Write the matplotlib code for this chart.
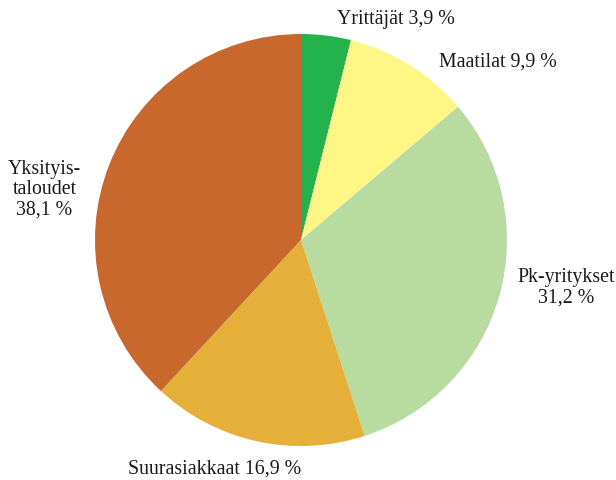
import matplotlib
matplotlib.use("Agg")
import matplotlib.pyplot as plt

# Segment data (clockwise from 12 o'clock)
labels = ["Yrittäjät", "Maatilat", "Pk-yritykset", "Suurasiakkaat", "Yksityis-\ntaloudet"]
shares = [3.9, 9.9, 31.2, 16.9, 38.1]
colors = ["#23b24b", "#fff685", "#b8dba0", "#e5b03a", "#c8682d"]

# label anchor points in axes data coords (pie radius = 1)
label_pos = [(0.46, 1.075), (0.955, 0.87), (1.285, -0.225), (-0.42, -1.105), (-1.245, 0.25)]

plt.rcParams["font.family"] = ["Liberation Serif", "DejaVu Serif"]

fig = plt.figure(figsize=(6.16, 4.81), dpi=100)
ax = fig.add_axes([95 / 616, 34 / 481, 412 / 616, 412 / 481])

ax.pie(shares, colors=colors, startangle=90, counterclock=False,
       radius=1, wedgeprops=dict(linewidth=0))

for lab, val, (x, y) in zip(labels, shares, label_pos):
    num = f"{val:.1f}".replace(".", ",") + " %"
    if "\n" in lab or lab == "Pk-yritykset":
        txt = f"{lab}\n{num}"
    else:
        txt = f"{lab} {num}"
    ax.text(x, y, txt, ha="center", va="center", fontsize=14.3,
            color="#1a1a1a", linespacing=1.1, clip_on=False)

ax.set_xlim(-1, 1)
ax.set_ylim(-1, 1)
ax.set_aspect("equal")
ax.axis("off")

fig.savefig("out.png", dpi=100)
